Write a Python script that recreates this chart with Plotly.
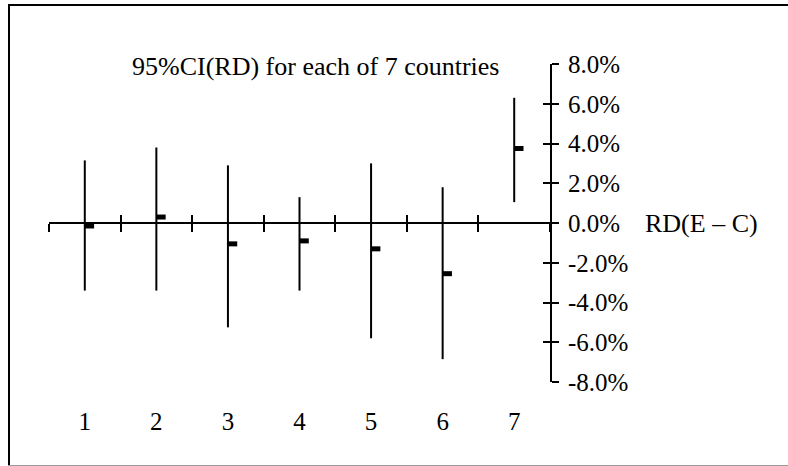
import plotly.graph_objects as go

# ---- data (values in %) ----
countries = [1, 2, 3, 4, 5, 6, 7]
country_labels = ["1", "2", "3", "4", "5", "6", "7"]
rd_estimate = [-0.15, 0.3, -1.05, -0.9, -1.3, -2.55, 3.75]
ci_lower = [-3.4, -3.4, -5.25, -3.4, -5.8, -6.85, 1.05]
ci_upper = [3.15, 3.8, 2.9, 1.3, 3.0, 1.8, 6.3]
y_tick_values = [8, 6, 4, 2, 0, -2, -4, -6, -8]
y_tick_labels = ["8.0%", "6.0%", "4.0%", "2.0%", "0.0%", "-2.0%", "-4.0%", "-6.0%", "-8.0%"]
title_text = "95%CI(RD) for each of 7 countries"
axis_name = "RD(E \u2013 C)"

# ---- layout geometry (screen pixels; page body margin removed below) ----
W, H = 788, 466
plot_left_px, plot_right_px = 49, 550
plot_top_px, plot_bottom_px = 64, 382
label_axis_px = 404
ML = plot_left_px
MR = W - plot_right_px
MT = plot_top_px
MB = H - label_axis_px
PW, PH = W - ML - MR, H - MT - MB
YMIN, YMAX = -8, 8
XMIN, XMAX = 0.5, 7.5
ydom0 = (label_axis_px - plot_bottom_px) / PH
zero_pos = ydom0 + (1 - ydom0) * (0 - YMIN) / (YMAX - YMIN)

def px_x(p):
    return (p - ML) / PW

def px_y(p):
    return (H - MB - p) / PH

FONT = "Liberation Serif"
FS_TEXT = 26
FS_TICK = 25
BLACK = "#000000"

# CI vertical lines
ci_x, ci_y = [], []
for c, lo, hi in zip(countries, ci_lower, ci_upper):
    ci_x += [c, c, None]
    ci_y += [lo, hi, None]

# point-estimate dashes (short horizontal stub to the right of each line)
DASH_LEN = 0.13
est_x, est_y = [], []
for c, e in zip(countries, rd_estimate):
    est_x += [c, c + DASH_LEN, None]
    est_y += [e, e, None]

fig = go.Figure()
fig.add_trace(go.Scatter(x=ci_x, y=ci_y, mode="lines",
                         line=dict(color=BLACK, width=2), hoverinfo="skip",
                         showlegend=False))
fig.add_trace(go.Scatter(x=est_x, y=est_y, mode="lines",
                         line=dict(color=BLACK, width=5), hoverinfo="skip",
                         showlegend=False))
# invisible carriers so that the overlay axes get drawn
for xa, ya in [("x2", "y"), ("x3", "y"), ("x", "y2")]:
    fig.add_trace(go.Scatter(x=countries, y=rd_estimate, mode="markers",
                             marker=dict(opacity=0), xaxis=xa, yaxis=ya,
                             hoverinfo="skip", showlegend=False))

boundaries = [c - 0.5 for c in countries] + [countries[-1] + 0.5]

common_x = dict(range=[XMIN, XMAX], showgrid=False, zeroline=False, fixedrange=True)

fig.update_layout(
    width=W, height=H,
    margin=dict(l=ML, r=MR, t=MT, b=MB, pad=0),
    paper_bgcolor="white", plot_bgcolor="white",
    font=dict(family=FONT, size=FS_TEXT, color=BLACK),
    showlegend=False,
    xaxis=dict(**common_x, anchor="free", position=zero_pos,
               showline=True, linecolor=BLACK, linewidth=2,
               tickmode="array", tickvals=boundaries, ticks="outside",
               ticklen=8, tickwidth=2, tickcolor=BLACK, showticklabels=False),
    xaxis2=dict(**common_x, overlaying="x", anchor="free", position=zero_pos,
                showline=False, tickmode="array", tickvals=boundaries,
                ticks="inside", ticklen=8, tickwidth=2, tickcolor=BLACK,
                showticklabels=False),
    xaxis3=dict(**common_x, overlaying="x", anchor="free", position=0,
                side="bottom", showline=False, ticks="",
                tickmode="array", tickvals=countries, ticktext=country_labels,
                tickfont=dict(family=FONT, size=FS_TICK, color=BLACK)),
    yaxis=dict(range=[YMIN, YMAX], domain=[ydom0, 1], side="right", anchor="x",
               showgrid=False, zeroline=False, fixedrange=True,
               showline=True, linecolor=BLACK, linewidth=2,
               tickmode="array", tickvals=y_tick_values, ticktext=y_tick_labels,
               ticks="outside", ticklen=7, tickwidth=2, tickcolor=BLACK,
               ticklabelstandoff=4,
               tickfont=dict(family=FONT, size=FS_TICK, color=BLACK)),
    yaxis2=dict(range=[YMIN, YMAX], domain=[ydom0, 1], overlaying="y", side="right",
                anchor="x", showgrid=False, zeroline=False, fixedrange=True,
                showline=False, tickmode="array", tickvals=y_tick_values,
                ticks="inside", ticklen=7, tickwidth=2, tickcolor=BLACK,
                showticklabels=False),
)

# chart-area border (left, top in black; bottom edge faint grey)
border_lines = [
    (9, 4, 9, 466, BLACK, 2),
    (8, 5, 800, 5, BLACK, 2),
    (8, 465.5, 800, 465.5, "#9a9a9a", 1),
]
for x0, y0, x1, y1, col, wd in border_lines:
    fig.add_shape(type="line", xref="paper", yref="paper",
                  x0=px_x(x0), x1=px_x(x1), y0=px_y(y0), y1=px_y(y1),
                  line=dict(color=col, width=wd), layer="below")

fig.add_annotation(text=title_text, xref="paper", yref="paper",
                   x=px_x(316), y=px_y(67), xanchor="center", yanchor="middle",
                   showarrow=False, font=dict(family=FONT, size=FS_TEXT, color=BLACK))
fig.add_annotation(text=axis_name, xref="paper", yref="y",
                   x=px_x(643), y=0, xanchor="left", yanchor="middle",
                   showarrow=False, font=dict(family=FONT, size=FS_TEXT, color=BLACK))

fig.write_html("out.html", config={"displayModeBar": False},
               post_script="document.body.style.margin='0';")
